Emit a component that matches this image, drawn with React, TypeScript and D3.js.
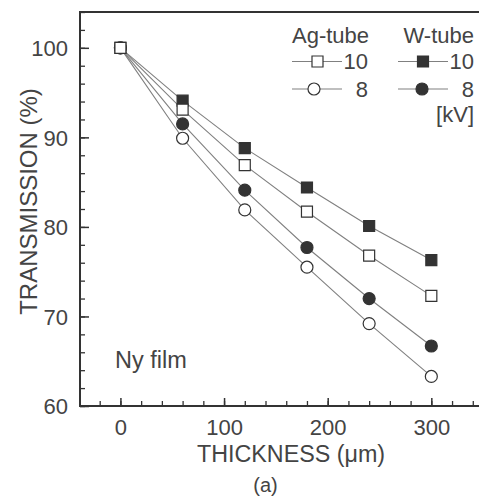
import React, { useEffect, useRef } from "react";
import * as d3 from "d3";

const thickness = [0, 60, 120, 180, 240, 300];
const agTube10 = [100, 93.1, 86.9, 81.7, 76.8, 72.3];
const agTube8 = [100, 89.9, 81.9, 75.5, 69.2, 63.3];
const wTube10 = [100, 94.1, 88.8, 84.4, 80.1, 76.3];
const wTube8 = [100, 91.5, 84.1, 77.7, 72.0, 66.7];

const yMajorTicks = [60, 70, 80, 90, 100];
const xMajorTicks = [0, 100, 200, 300];

const W = 479;
const H = 498;
const FONT = "'Liberation Sans', Arial, Helvetica, sans-serif";
const TEXT = "#444";
const INK = "#333";
const LINE = "#808080";

export default function App() {
  const ref = useRef<SVGSVGElement | null>(null);

  useEffect(() => {
    document.body.style.margin = "0";
    const svg = d3.select(ref.current);
    svg.selectAll("*").remove();

    const x = d3.scaleLinear().domain([-39, 346]).range([80, 479]);
    const y = d3.scaleLinear().domain([60, 104]).range([406, 12]);

    // minor ticks
    svg.append("g").attr("transform", "translate(80,0)")
      .call(d3.axisLeft(y).tickValues(d3.range(60, 105, 2)).tickSize(-5).tickFormat(() => ""))
      .call(g => g.select(".domain").remove())
      .call(g => g.selectAll("line").attr("stroke", INK).attr("stroke-width", 1.3));
    svg.append("g").attr("transform", "translate(0,406)")
      .call(d3.axisBottom(x).tickValues(d3.range(-20, 345, 20)).tickSize(-5).tickFormat(() => ""))
      .call(g => g.select(".domain").remove())
      .call(g => g.selectAll("line").attr("stroke", INK).attr("stroke-width", 1.3));

    // major ticks
    svg.append("g").attr("transform", "translate(80,0)")
      .call(d3.axisLeft(y).tickValues(yMajorTicks).tickSize(-9).tickPadding(12).tickFormat(d3.format("d")))
      .call(g => g.select(".domain").remove())
      .call(g => g.selectAll("line").attr("stroke", INK).attr("stroke-width", 1.5))
      .call(g => g.selectAll("text").attr("font-family", FONT).attr("font-size", 22).attr("fill", TEXT).attr("dy", "0.35em"));
    svg.append("g").attr("transform", "translate(0,406)")
      .call(d3.axisBottom(x).tickValues(xMajorTicks).tickSize(-8).tickPadding(13).tickFormat(d3.format("d")))
      .call(g => g.select(".domain").remove())
      .call(g => g.selectAll("line").attr("stroke", INK).attr("stroke-width", 1.5))
      .call(g => g.selectAll("text").attr("font-family", FONT).attr("font-size", 22).attr("fill", TEXT));

    // frame
    const frame = svg.append("g").attr("stroke", INK).attr("stroke-width", 2).attr("fill", "none");
    frame.append("line").attr("x1", 80).attr("x2", 479).attr("y1", 12).attr("y2", 12);
    frame.append("line").attr("x1", 80).attr("x2", 80).attr("y1", 11).attr("y2", 407);
    frame.append("line").attr("x1", 79).attr("x2", 479).attr("y1", 406).attr("y2", 406);

    const series = [
      { vals: wTube10, shape: "square", filled: true },
      { vals: wTube8, shape: "circle", filled: true },
      { vals: agTube8, shape: "circle", filled: false },
      { vals: agTube10, shape: "square", filled: false },
    ];

    const lineGen = d3.line<number>().x((_, i) => x(thickness[i])).y(d => y(d));
    series.forEach(s => {
      svg.append("path").attr("d", lineGen(s.vals) as string)
        .attr("fill", "none").attr("stroke", LINE).attr("stroke-width", 1.1);
    });

    const sq = d3.symbol().type(d3.symbolSquare).size(121);
    const ci = d3.symbol().type(d3.symbolCircle).size(Math.PI * 36);
    series.forEach(s => {
      svg.append("g").selectAll("path").data(s.vals).enter().append("path")
        .attr("d", (s.shape === "square" ? sq() : ci()) as string)
        .attr("transform", (d, i) => `translate(${x(thickness[i])},${y(d)})`)
        .attr("fill", s.filled ? INK : "#fff")
        .attr("stroke", INK).attr("stroke-width", 1.2);
    });

    // legend
    const lg = svg.append("g").attr("font-family", FONT).attr("fill", TEXT).attr("font-size", 22);
    lg.append("text").attr("x", 292).attr("y", 43).text("Ag-tube");
    lg.append("text").attr("x", 474).attr("y", 43).attr("text-anchor", "end").text("W-tube");
    const legendRows = [
      { x1: 292, x2: 342, cx: 317.5, cy: 61.5, shape: "square", filled: false, label: "10", tx: 368, ty: 69 },
      { x1: 292, x2: 342, cx: 314, cy: 89, shape: "circle", filled: false, label: "8", tx: 368, ty: 97 },
      { x1: 398, x2: 448, cx: 423, cy: 61.5, shape: "square", filled: true, label: "10", tx: 474, ty: 69 },
      { x1: 398, x2: 448, cx: 422, cy: 89, shape: "circle", filled: true, label: "8", tx: 474, ty: 97 },
    ];
    legendRows.forEach(r => {
      lg.append("line").attr("x1", r.x1).attr("x2", r.x2).attr("y1", r.cy).attr("y2", r.cy)
        .attr("stroke", LINE).attr("stroke-width", 1.1);
      lg.append("path").attr("d", (r.shape === "square" ? sq() : ci()) as string)
        .attr("transform", `translate(${r.cx},${r.cy})`)
        .attr("fill", r.filled ? INK : "#fff").attr("stroke", INK).attr("stroke-width", 1.2);
      lg.append("text").attr("x", r.tx).attr("y", r.ty).attr("text-anchor", "end").text(r.label);
    });
    lg.append("text").attr("x", 474).attr("y", 122).attr("text-anchor", "end").text("[kV]");

    // annotations
    svg.append("text").attr("x", 115).attr("y", 368).attr("font-family", FONT).attr("font-size", 23.5)
      .attr("fill", TEXT).text("Ny film");

    svg.append("text").attr("x", 291).attr("y", 462).attr("text-anchor", "middle")
      .attr("font-family", FONT).attr("font-size", 23.3).attr("fill", TEXT).text("THICKNESS (\u03bcm)");
    svg.append("text").attr("transform", "translate(36.5,201.5) rotate(-90)").attr("text-anchor", "middle")
      .attr("font-family", FONT).attr("font-size", 24).attr("fill", TEXT).text("TRANSMISSION (%)");
    svg.append("text").attr("x", 265.5).attr("y", 492).attr("text-anchor", "middle")
      .attr("font-family", FONT).attr("font-size", 20).attr("fill", TEXT).text("(a)");
  }, []);

  return <svg ref={ref} width={W} height={H} style={{ display: "block", background: "#fff" }} />;
}
